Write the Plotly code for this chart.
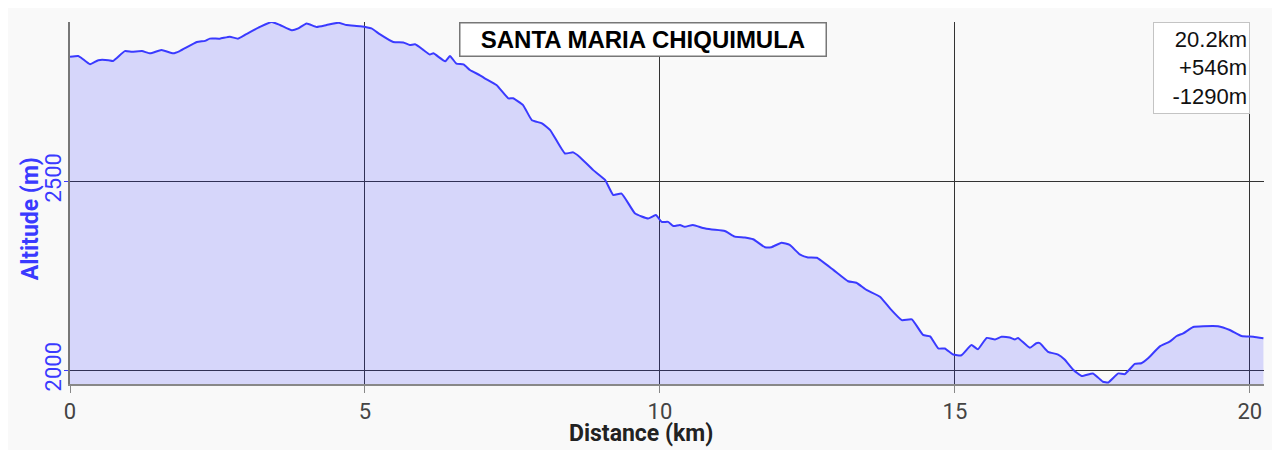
import plotly.graph_objects as go

distance_km = [
    0.00, 0.14, 0.20, 0.34, 0.48, 0.65, 0.73, 0.93, 1.05, 1.22, 1.36, 1.55, 1.75, 1.86,
    2.15, 2.29, 2.37, 2.54, 2.71, 2.85, 2.99, 3.22, 3.42, 3.56, 3.76, 3.87, 4.01, 4.18,
    4.35, 4.55, 4.69, 4.92, 5.11, 5.25, 5.48, 5.65, 5.76, 5.85, 5.99, 6.10, 6.16, 6.36,
    6.44, 6.55, 6.67, 6.78, 6.95, 7.03, 7.23, 7.43, 7.51, 7.68, 7.83, 8.00, 8.14, 8.39,
    8.53, 8.64, 8.87, 9.07, 9.21, 9.35, 9.58, 9.80, 9.93, 10.03, 10.14, 10.23, 10.34,
    10.42, 10.56, 10.73, 10.88, 11.10, 11.27, 11.44, 11.58, 11.78, 11.89, 12.06, 12.20,
    12.37, 12.51, 12.66, 12.94, 13.19, 13.33, 13.50, 13.73, 13.90, 14.10, 14.27, 14.46,
    14.58, 14.72, 14.83, 14.97, 15.11, 15.28, 15.39, 15.54, 15.68, 15.79, 15.93, 16.02,
    16.07, 16.27, 16.38, 16.44, 16.58, 16.75, 16.86, 17.01, 17.15, 17.34, 17.51, 17.60,
    17.77, 17.88, 18.05, 18.16, 18.28, 18.47, 18.64, 18.76, 18.87, 19.04, 19.21, 19.46,
    19.66, 19.86, 20.06, 20.23,
]
altitude_m = [
    2829, 2831, 2825, 2809, 2820, 2820, 2818, 2844, 2842, 2844, 2838, 2847, 2838, 2844,
    2868, 2871, 2877, 2877, 2882, 2877, 2889, 2908, 2921, 2913, 2899, 2904, 2917, 2908,
    2913, 2919, 2913, 2910, 2904, 2889, 2868, 2867, 2860, 2862, 2847, 2835, 2838, 2817,
    2831, 2811, 2809, 2794, 2780, 2772, 2754, 2719, 2719, 2701, 2661, 2653, 2635, 2573,
    2576, 2564, 2529, 2503, 2463, 2467, 2414, 2401, 2410, 2392, 2392, 2381, 2384,
    2379, 2384, 2376, 2372, 2368, 2353, 2351, 2346, 2325, 2325, 2337, 2331,
    2306, 2298, 2297, 2265, 2235, 2231, 2212, 2194, 2163, 2132, 2134, 2093,
    2089, 2057, 2057, 2041, 2039, 2066, 2055, 2085, 2081, 2088, 2086, 2081,
    2085, 2059, 2071, 2071, 2048, 2041, 2028, 2000, 1984, 1991, 1969, 1967,
    1991, 1989, 2016, 2018, 2032, 2062, 2075, 2090, 2097, 2114, 2116, 2116,
    2106, 2090, 2088, 2084,
]

route_title = "SANTA MARIA CHIQUIMULA"
stats_lines = ["20.2km", "+546m", "-1290m"]
x_ticks = [0, 5, 10, 15, 20]
y_ticks = [2000, 2500]
x_title = "Distance (km)"
y_title = "Altitude (m)"

BG = "#f9f9f9"
BLUE = "#3a3aff"

fig = go.Figure()
fig.add_trace(go.Scatter(
    x=distance_km, y=altitude_m, mode="lines",
    line=dict(color=BLUE, width=2, shape="spline", smoothing=0.4),
    fill="tozeroy", fillcolor="rgba(40,40,255,0.17)",
    hoverinfo="skip", showlegend=False,
))

fig.add_annotation(
    text="<b>" + route_title + "</b>", xref="paper", yref="paper",
    x=0.48, y=1.0, xanchor="center", yanchor="top", showarrow=False,
    font=dict(family="Liberation Sans, Arial, sans-serif", size=24, color="#000"),
    width=361, height=28,
    bgcolor="white", bordercolor="#777", borderwidth=1.5, borderpad=2,
)
fig.add_annotation(
    text="<br>".join(stats_lines), xref="x", yref="paper",
    x=20, y=1.0, xanchor="right", yanchor="top", showarrow=False, align="right",
    font=dict(family="Liberation Sans, Arial, sans-serif", size=22, color="#111"),
    width=91, height=86,
    bgcolor="white", bordercolor="#c4c4c4", borderwidth=1, borderpad=2,
)
# axis titles
fig.add_annotation(
    text="<b>" + x_title + "</b>", xref="paper", yref="paper",
    x=0.478, y=0, yshift=-49, xanchor="center", yanchor="middle", showarrow=False,
    font=dict(family="Roboto, sans-serif", size=23, color="#222"),
)
fig.add_annotation(
    text="<b>" + y_title + "</b>", xref="paper", yref="paper",
    x=0, y=0.455, xshift=-40, xanchor="center", yanchor="middle", showarrow=False,
    textangle=-90,
    font=dict(family="Roboto, sans-serif", size=23, color=BLUE),
)

fig.update_layout(
    width=1280, height=450,
    margin=dict(l=62, r=24, t=14, b=74, autoexpand=False),
    paper_bgcolor=BG, plot_bgcolor=BG,
    font=dict(family="Roboto, sans-serif"),
    xaxis=dict(
        range=[0, 20.24], tickvals=x_ticks, ticktext=[str(v) for v in x_ticks],
        automargin=False,
        showgrid=True, gridcolor="#333", gridwidth=1, zeroline=False,
        showline=True, linecolor="#888", linewidth=2,
        ticks="outside", ticklen=7, tickcolor="#888", tickwidth=1,
        tickfont=dict(size=22, color="#444"),
    ),
    yaxis=dict(
        range=[1963, 2921], tickvals=y_ticks, ticktext=[str(v) for v in y_ticks],
        tickangle=-90, automargin=False, ticklabelstandoff=-6,
        showgrid=True, gridcolor="#333", gridwidth=1, zeroline=False,
        showline=True, linecolor="#777", linewidth=2,
        ticks="outside", ticklen=4, tickcolor=BLUE, tickwidth=1,
        tickfont=dict(size=22, color=BLUE),
    ),
)

fig.write_html("out.html")
